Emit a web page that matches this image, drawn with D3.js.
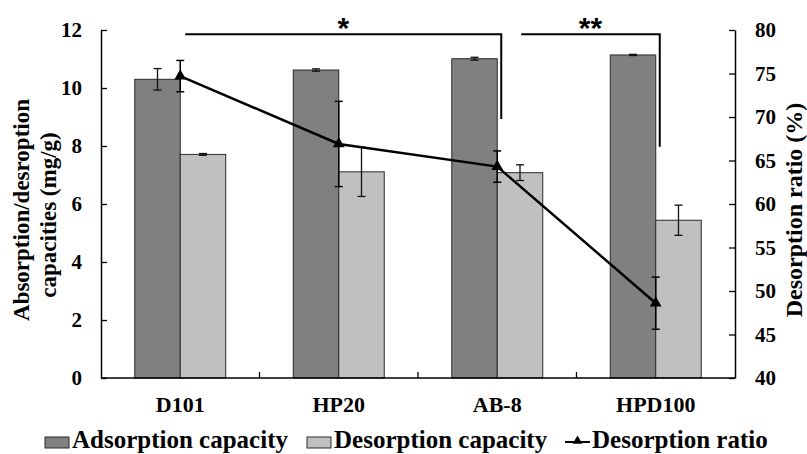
<!DOCTYPE html>
<html>
<head>
<meta charset="utf-8">
<script src="https://cdn.jsdelivr.net/npm/d3@7"></script>
<style>
  body { margin: 0; background: #fff; }
</style>
</head>
<body>
<div id="chart"></div>
<script>
const categories = ["D101", "HP20", "AB-8", "HPD100"];
const adsorption = [10.3, 10.62, 11.01, 11.14];
const adsorptionErr = [0.37, 0.04, 0.05, 0.02];
const desorption = [7.71, 7.11, 7.08, 5.44];
const desorptionErr = [0.03, 0.85, 0.27, 0.52];
const ratio = [74.7, 66.9, 64.3, 48.6];
const ratioErr = [1.8, 4.9, 1.8, 3.0];
const leftTicks = [0, 2, 4, 6, 8, 10, 12];
const rightTicks = [40, 45, 50, 55, 60, 65, 70, 75, 80];
// significance brackets: from / to category, top level and drop level (left axis units)
const brackets = [
  { from: "D101", to: "AB-8", top: 11.85, drop: 8.93, label: "*" },
  { from: "AB-8", to: "HPD100", top: 11.85, drop: 7.97, label: "**" }
];

const SERIF = "'Liberation Serif', 'Times New Roman', serif";
const width = 807, height = 454;
const margin = { top: 30, right: 72, bottom: 76, left: 101 };

const svg = d3.select("#chart").append("svg")
  .attr("width", width).attr("height", height)
  .style("font-family", SERIF).style("font-weight", "bold");

const x = d3.scaleBand().domain(categories)
  .range([margin.left, width - margin.right]);
const bw = x.bandwidth();
const x1 = d3.scaleBand().domain(["ads", "des"]).range([bw * 0.213, bw * 0.787]);
const yL = d3.scaleLinear().domain([0, 12]).range([height - margin.bottom, margin.top]);
const yR = d3.scaleLinear().domain([40, 80]).range([height - margin.bottom, margin.top]);

function label(sel, size) {
  return sel.style("font-family", SERIF).style("font-weight", "bold")
    .style("font-size", size + "px").attr("fill", "#000");
}

const bars = svg.append("g");
const barData = categories.map((c, i) => [
  { c, key: "ads", v: adsorption[i], e: adsorptionErr[i], fill: "#808080" },
  { c, key: "des", v: desorption[i], e: desorptionErr[i], fill: "#c0c0c0" }
]).flat();

bars.selectAll("rect").data(barData).join("rect")
  .attr("x", d => x(d.c) + x1(d.key))
  .attr("y", d => yL(d.v))
  .attr("width", x1.bandwidth())
  .attr("height", d => yL(0) - yL(d.v))
  .attr("fill", d => d.fill)
  .attr("stroke", "#2a2a2a")
  .attr("stroke-width", 1);

// bar error bars
const eb = bars.selectAll("g.err").data(barData).join("g").attr("class", "err")
  .attr("stroke", "#111").attr("stroke-width", 1.3);
eb.each(function(d) {
  const g = d3.select(this);
  const cx = x(d.c) + x1(d.key) + x1.bandwidth() / 2;
  g.append("line").attr("x1", cx).attr("x2", cx).attr("y1", yL(d.v + d.e)).attr("y2", yL(d.v - d.e));
  g.append("line").attr("x1", cx - 4).attr("x2", cx + 4).attr("y1", yL(d.v + d.e)).attr("y2", yL(d.v + d.e));
  g.append("line").attr("x1", cx - 4).attr("x2", cx + 4).attr("y1", yL(d.v - d.e)).attr("y2", yL(d.v - d.e));
});

// axes
const axisL = svg.append("g").attr("transform", `translate(${margin.left},0)`)
  .call(d3.axisLeft(yL).tickValues(leftTicks).tickSizeInner(-6).tickSizeOuter(0).tickPadding(19));
const axisR = svg.append("g").attr("transform", `translate(${width - margin.right},0)`)
  .call(d3.axisRight(yR).tickValues(rightTicks).tickSizeInner(-6).tickSizeOuter(0).tickPadding(20));
const xTickPos = categories.slice(1).map(c => x(c));
const axisB = svg.append("g").attr("transform", `translate(0,${yL(0)})`);
axisB.append("line").attr("x1", margin.left).attr("x2", width - margin.right)
  .attr("stroke", "#000").attr("stroke-width", 1.5);
axisB.selectAll("line.tk").data(xTickPos).join("line").attr("class", "tk")
  .attr("x1", d => d).attr("x2", d => d).attr("y1", 0).attr("y2", -6)
  .attr("stroke", "#000").attr("stroke-width", 1.3);
axisB.selectAll("text").data(categories).join("text")
  .attr("x", d => x(d) + bw / 2).attr("y", 34)
  .attr("text-anchor", "middle").call(label, 22).text(d => d);

[axisL, axisR].forEach(a => {
  a.attr("font-family", null).attr("font-size", null);
  a.select(".domain").attr("stroke", "#000").attr("stroke-width", 1.5);
  a.selectAll(".tick line").attr("stroke", "#000").attr("stroke-width", 1.3);
  a.selectAll(".tick text").call(label, 21);
});

// ratio line
const lineGen = d3.line().x((d, i) => x(categories[i]) + bw / 2).y(d => yR(d));
svg.append("path").datum(ratio).attr("d", lineGen)
  .attr("fill", "none").attr("stroke", "#000").attr("stroke-width", 2.5);

const rg = svg.append("g").attr("stroke", "#000").attr("stroke-width", 1.5);
ratio.forEach((v, i) => {
  const cx = x(categories[i]) + bw / 2;
  const e = ratioErr[i];
  rg.append("line").attr("x1", cx).attr("x2", cx).attr("y1", yR(v + e)).attr("y2", yR(v - e));
  rg.append("line").attr("x1", cx - 4).attr("x2", cx + 4).attr("y1", yR(v + e)).attr("y2", yR(v + e));
  rg.append("line").attr("x1", cx - 4).attr("x2", cx + 4).attr("y1", yR(v - e)).attr("y2", yR(v - e));
});
svg.append("g").selectAll("path").data(ratio).join("path")
  .attr("d", d3.symbol(d3.symbolTriangle, 60))
  .attr("transform", (d, i) => `translate(${x(categories[i]) + bw / 2},${yR(d)})`)
  .attr("fill", "#000");

// significance brackets
const br = svg.append("g");
brackets.forEach((b, i) => {
  const x0 = x(b.from) + bw / 2 + (i === 0 ? 5 : 24);
  const xe = x(b.to) + bw / 2 + 4;
  br.append("path")
    .attr("d", `M${x0},${yL(b.top)}H${xe}V${yL(b.drop)}`)
    .attr("fill", "none").attr("stroke", "#000").attr("stroke-width", 2);
  br.append("text").attr("x", (x0 + xe) / 2).attr("y", yL(b.top) + 4)
    .attr("text-anchor", "middle").attr("fill", "#000")
    .style("font-family", "'Liberation Sans', Arial, sans-serif")
    .style("font-weight", "bold")
    .style("font-size", "30px").text(b.label);
});

// axis titles
const midY = 210;
svg.append("text").attr("transform", `translate(29,${midY}) rotate(-90)`)
  .attr("text-anchor", "middle").call(label, 23).text("Absorption/desroption");
svg.append("text").attr("transform", `translate(56,${midY + 5}) rotate(-90)`)
  .attr("text-anchor", "middle").call(label, 23).text("capacities (mg/g)");
svg.append("text").attr("transform", `translate(802,${midY}) rotate(-90)`)
  .attr("text-anchor", "middle").call(label, 24).text("Desorption ratio (%)");

// legend
const leg = svg.append("g").attr("transform", "translate(0,448)");
const legItems = [
  { label: "Adsorption capacity", fill: "#808080", x: 45, type: "box" },
  { label: "Desorption capacity", fill: "#c0c0c0", x: 307, type: "box" },
  { label: "Desorption ratio", x: 565, type: "line" }
];
legItems.forEach(d => {
  if (d.type === "box") {
    leg.append("rect").attr("x", d.x).attr("y", -11).attr("width", 24).attr("height", 11)
      .attr("fill", d.fill).attr("stroke", "#2a2a2a").attr("stroke-width", 1);
  } else {
    leg.append("line").attr("x1", d.x).attr("x2", d.x + 25).attr("y1", -6).attr("y2", -6)
      .attr("stroke", "#000").attr("stroke-width", 2);
    leg.append("path").attr("d", d3.symbol(d3.symbolTriangle, 40))
      .attr("transform", `translate(${d.x + 12.5},-7)`).attr("fill", "#000");
  }
  leg.append("text").attr("x", d.x + 27).attr("y", 0).call(label, 25).text(d.label);
});
</script>
</body>
</html>
